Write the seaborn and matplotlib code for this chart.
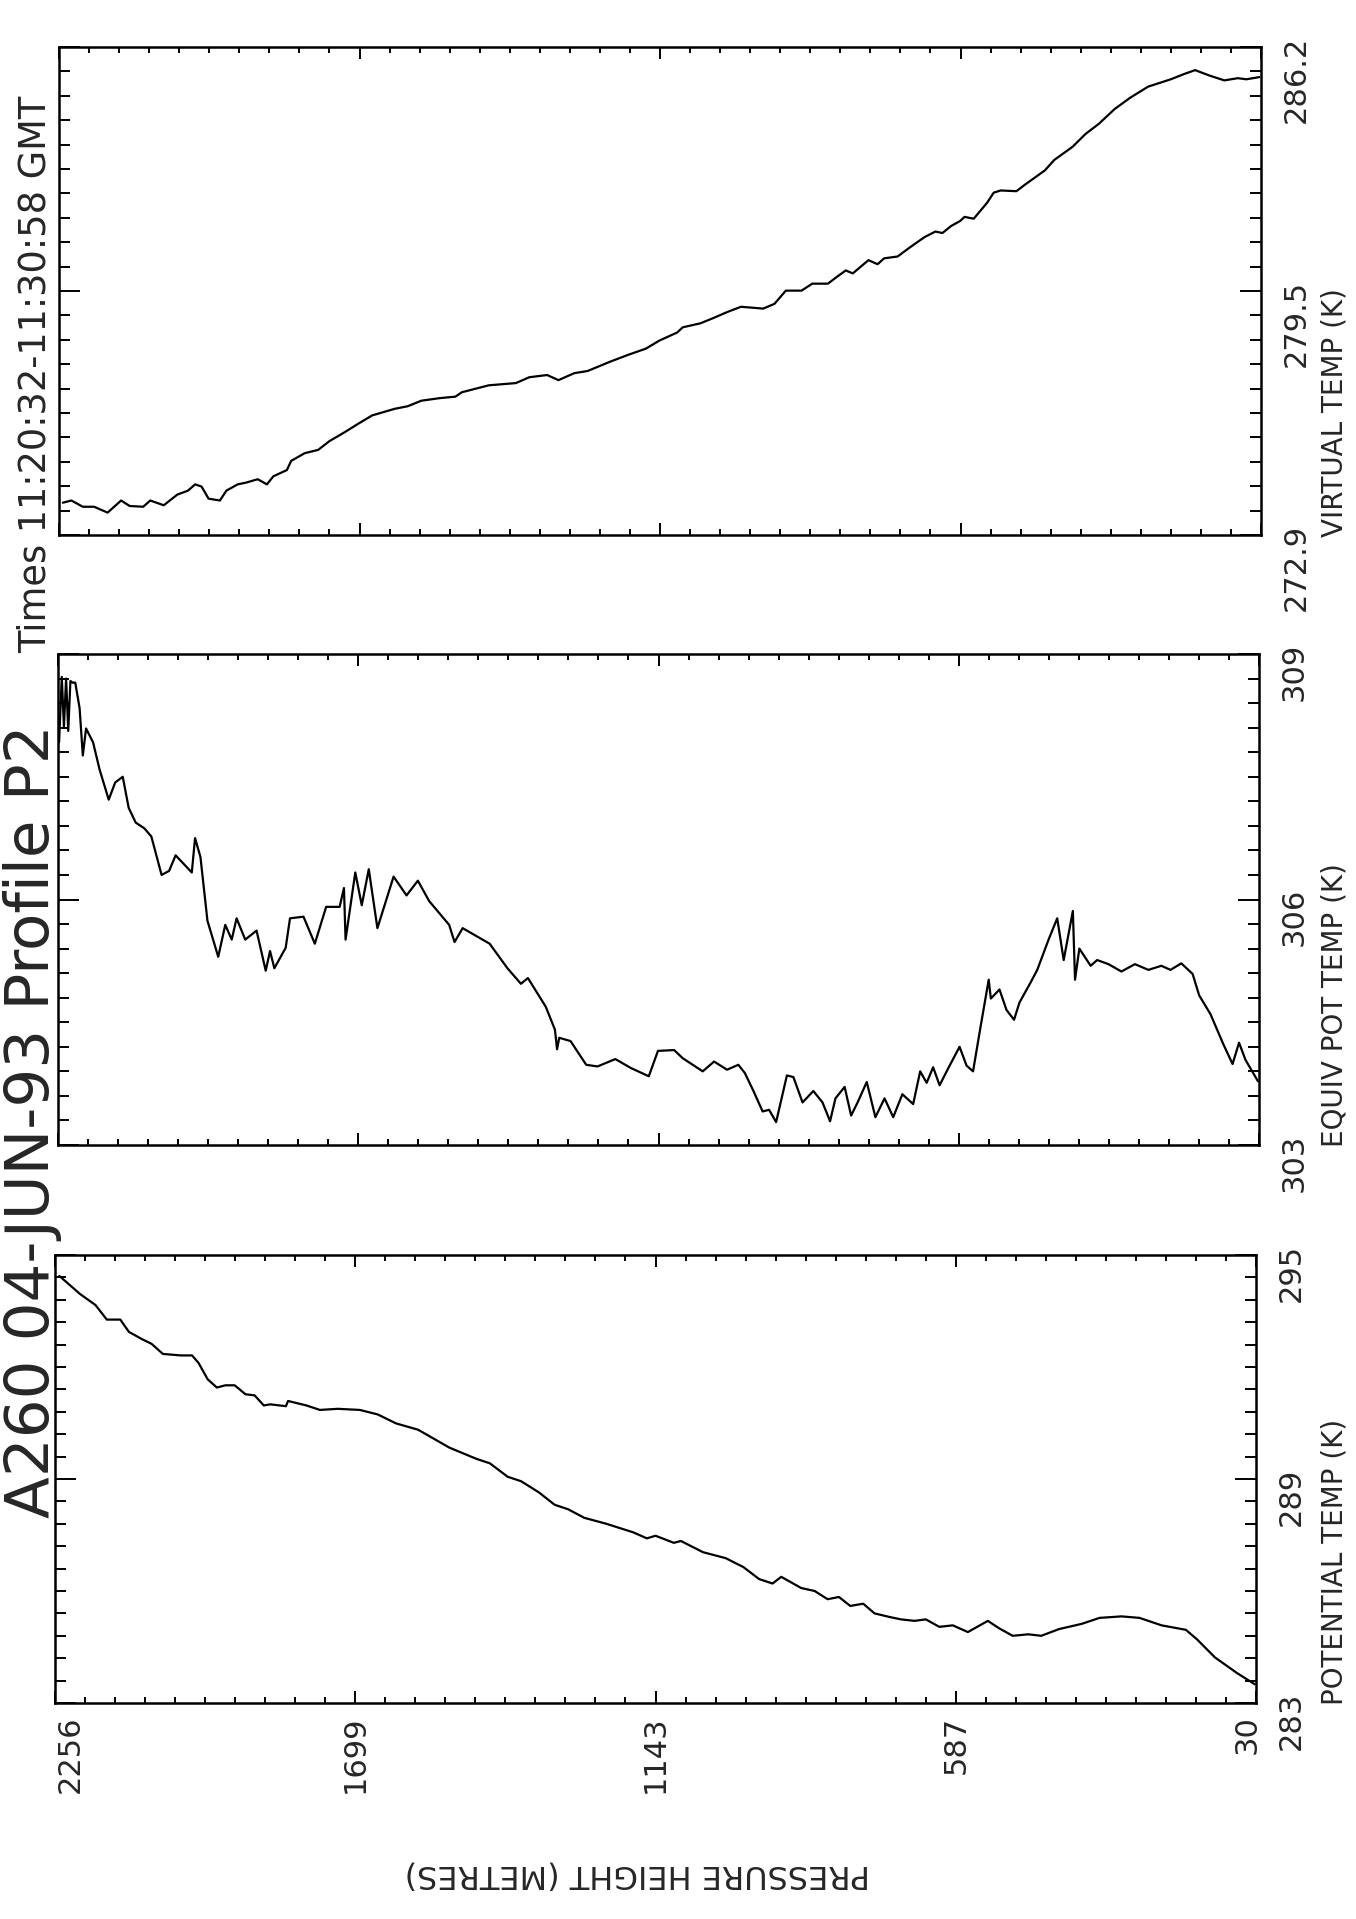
import numpy as np
import pandas as pd
import matplotlib
matplotlib.use("Agg")
import matplotlib.pyplot as plt
import matplotlib.transforms as mtrans
from matplotlib.ticker import FixedLocator
import seaborn as sns

# --- DATA ---
# potential temperature panel (bottom)
pot_height = [2248, 2210, 2181, 2160, 2135, 2119, 2094, 2077, 2056, 2023, 2002, 1990, 1973, 1956,
              1940, 1923, 1903, 1886, 1869, 1857, 1828, 1824, 1790, 1765, 1732, 1691, 1658, 1624,
              1583, 1525, 1475, 1450, 1417, 1392, 1359, 1330, 1305, 1275, 1234, 1184, 1159, 1143,
              1109, 1096, 1055, 1013, 980, 951, 926, 910, 873, 848, 824, 803, 782, 758, 737, 708,
              688, 663, 642, 617, 592, 564, 527, 506, 481, 452, 428, 395, 353, 320, 279, 246, 205,
              160, 139, 106, 65, 32]
pot_temp = [294.44, 293.96, 293.66, 293.27, 293.27, 292.94, 292.74, 292.62, 292.35, 292.31, 292.31,
            292.11, 291.67, 291.45, 291.51, 291.51, 291.27, 291.24, 290.97, 291.00, 290.95, 291.09,
            290.97, 290.85, 290.88, 290.85, 290.73, 290.49, 290.32, 289.84, 289.54, 289.42, 289.06,
            288.94, 288.64, 288.31, 288.19, 287.96, 287.80, 287.57, 287.41, 287.48, 287.29, 287.34,
            287.04, 286.88, 286.64, 286.32, 286.20, 286.38, 286.08, 286.00, 285.78, 285.84, 285.60,
            285.66, 285.40, 285.30, 285.24, 285.20, 285.24, 285.04, 285.08, 284.90, 285.20, 285.00,
            284.80, 284.84, 284.80, 284.98, 285.12, 285.28, 285.32, 285.28, 285.08, 284.96, 284.70,
            284.22, 283.80, 283.50]

# equivalent potential temperature panel (middle)
eq_height = [2254, 2249, 2245, 2241, 2237, 2233, 2229, 2224, 2216, 2210, 2204, 2191, 2179, 2162,
             2150, 2136, 2125, 2112, 2096, 2083, 2064, 2050, 2038, 2021, 2008, 2002, 1992, 1979,
             1959, 1946, 1934, 1925, 1909, 1888, 1871, 1863, 1855, 1834, 1826, 1801, 1780, 1759,
             1734, 1726, 1723, 1705, 1693, 1680, 1664, 1634, 1610, 1589, 1568, 1531, 1521, 1506,
             1456, 1423, 1398, 1385, 1352, 1335, 1331, 1327, 1306, 1277, 1256, 1223, 1194, 1161,
             1144, 1114, 1098, 1077, 1061, 1040, 1016, 995, 983, 967, 950, 938, 925, 905, 893,
             876, 856, 839, 825, 815, 798, 786, 774, 757, 741, 724, 708, 691, 671, 658, 646, 634,
             622, 605, 585, 572, 560, 548, 531, 527, 511, 498, 484, 474, 453, 441, 420, 404, 392,
             375, 371, 363, 342, 330, 309, 285, 260, 235, 211, 194, 174, 153, 141, 120, 96, 79,
             67, 55, 32]
eq_temp = [307.92, 308.72, 308.11, 308.70, 308.06, 308.67, 308.65, 308.65, 308.34, 307.76, 308.09,
           307.92, 307.59, 307.22, 307.43, 307.50, 307.12, 306.94, 306.87, 306.77, 306.30, 306.35,
           306.54, 306.42, 306.33, 306.75, 306.52, 305.74, 305.30, 305.69, 305.51, 305.77, 305.51,
           305.62, 305.13, 305.37, 305.16, 305.41, 305.77, 305.79, 305.46, 305.91, 305.91, 306.14,
           305.51, 306.33, 305.93, 306.37, 305.65, 306.28, 306.05, 306.23, 305.98, 305.69, 305.48,
           305.65, 305.46, 305.16, 304.97, 305.04, 304.69, 304.41, 304.17, 304.31, 304.27, 303.98,
           303.96, 304.05, 303.94, 303.84, 304.15, 304.16, 304.06, 303.97, 303.90, 304.02, 303.92,
           303.98, 303.88, 303.66, 303.41, 303.43, 303.28, 303.85, 303.83, 303.52, 303.66, 303.52,
           303.29, 303.57, 303.71, 303.36, 303.52, 303.77, 303.34, 303.57, 303.34, 303.62, 303.50,
           303.90, 303.76, 303.95, 303.73, 303.95, 304.20, 303.97, 303.90, 304.37, 305.02, 304.79,
           304.90, 304.65, 304.53, 304.74, 304.99, 305.14, 305.51, 305.77, 305.26, 305.86, 305.02,
           305.40, 305.19, 305.26, 305.21, 305.12, 305.21, 305.14, 305.19, 305.14, 305.22, 305.09,
           304.83, 304.60, 304.23, 303.99, 304.25, 304.04, 303.78]

# virtual temperature panel (top)
virt_height = [2249, 2233, 2212, 2191, 2166, 2141, 2125, 2100, 2087, 2062, 2037, 2017, 2004, 1992,
               1979, 1958, 1946, 1925, 1909, 1888, 1871, 1859, 1834, 1826, 1801, 1776, 1755, 1726,
               1701, 1676, 1634, 1610, 1585, 1551, 1522, 1510, 1460, 1410, 1385, 1352, 1331, 1302,
               1277, 1236, 1202, 1169, 1144, 1111, 1101, 1068, 1043, 1018, 993, 968, 952, 931, 910,
               881, 861, 832, 815, 799, 786, 757, 740, 728, 703, 682, 653, 633, 620, 604, 587, 579,
               562, 537, 525, 512, 483, 467, 446, 430, 413, 396, 379, 355, 330, 301, 272, 239, 197,
               173, 152, 127, 98, 73, 57, 33]
virt_temp = [273.78, 273.84, 273.67, 273.67, 273.51, 273.84, 273.69, 273.67, 273.84, 273.71, 274.00,
             274.11, 274.28, 274.22, 273.89, 273.84, 274.11, 274.28, 274.33, 274.42, 274.28, 274.50,
             274.67, 274.92, 275.13, 275.22, 275.46, 275.71, 275.94, 276.16, 276.34, 276.41, 276.56,
             276.63, 276.67, 276.79, 276.98, 277.04, 277.20, 277.26, 277.12, 277.31, 277.37, 277.62,
             277.81, 277.98, 278.20, 278.42, 278.56, 278.67, 278.82, 278.98, 279.12, 279.09, 279.07,
             279.20, 279.56, 279.56, 279.75, 279.75, 279.94, 280.11, 280.03, 280.39, 280.28, 280.44,
             280.49, 280.72, 281.02, 281.17, 281.13, 281.32, 281.46, 281.57, 281.52, 281.96, 282.23,
             282.29, 282.27, 282.45, 282.67, 282.84, 283.12, 283.30, 283.48, 283.83, 284.11, 284.51,
             284.82, 285.12, 285.32, 285.46, 285.57, 285.43, 285.29, 285.35, 285.32, 285.38]

height_ticks = [2256, 1699.5, 1143, 586.5, 30]
height_labels = ["2256", "1699", "1143", "587", "30"]

pot_ticks = [283, 289, 295]
pot_labels = ["283", "289", "295"]
eq_ticks = [303, 306, 309]
eq_labels = ["303", "306", "309"]
virt_ticks = [272.9, 279.55, 286.2]
virt_labels = ["272.9", "279.5", "286.2"]

title_main = "A260 04-JUN-93 Profile P2"
title_times = "Times 11:20:32-11:30:58 GMT"

W, H = 1356, 1919

sns.set_style("white")
plt.rcParams["font.family"] = ["DejaVu Sans"]


def frame(left, top, right, bottom):
    # pixel box (from top-left) -> figure fraction
    return [left / W, 1 - bottom / H, (right - left) / W, (bottom - top) / H]


def draw_panel(fig, box, heights, temps, tticks, tlabels, ylabel, show_height):
    ax = fig.add_axes(frame(*box))
    df = pd.DataFrame({"height": heights, "temp": temps})
    sns.lineplot(data=df, x="height", y="temp", ax=ax, sort=False, estimator=None,
                 color="black", linewidth=1.6)

    ax.set_xlim(2256, 30)
    ax.set_ylim(tticks[0], tticks[-1])
    ax.set_xlabel("")
    ax.set_ylabel("")

    ax.xaxis.set_major_locator(FixedLocator(height_ticks))
    ax.xaxis.set_minor_locator(FixedLocator(np.linspace(30, 2256, 41)))
    ax.set_xticklabels(height_labels if show_height else [])
    ax.yaxis.set_major_locator(FixedLocator(tticks))
    ax.yaxis.set_minor_locator(FixedLocator(np.linspace(tticks[0], tticks[-1], 21)))
    ax.set_yticklabels(tlabels)

    for s in ax.spines.values():
        s.set_visible(True)
        s.set_linewidth(1.8)
        s.set_color("black")

    ax.tick_params(which="both", direction="in", top=True, bottom=True, left=True, right=True,
                   color="black", width=1.4)
    ax.tick_params(axis="x", which="major", length=8.5)
    ax.tick_params(axis="x", which="minor", length=4.3)
    ax.tick_params(axis="y", which="major", length=15)
    ax.tick_params(axis="y", which="minor", length=8)
    ax.tick_params(axis="y", labelleft=False, labelright=True, labelrotation=90,
                   labelsize=22, pad=15)
    ax.tick_params(axis="x", labelbottom=show_height, labelrotation=90, labelsize=22, pad=9)

    if show_height:
        labels = ax.get_xticklabels()
        shift = [(15, 0), (0, 0), (0, 0), (0, 0), (-9, 0)]
        for lab, (dx, dy) in zip(labels, shift):
            lab.set_transform(lab.get_transform() +
                              mtrans.ScaledTranslation(dx / 100, dy / 100, fig.dpi_scale_trans))

    # axis title on the right, starting at the lower edge of the panel
    left, top, right, bottom = box
    fig.text(1342 / W, 1 - (bottom + 2) / H, ylabel, rotation=90, rotation_mode="anchor",
             ha="left", va="baseline", fontsize=20)
    return ax


fig = plt.figure(figsize=(W / 100, H / 100), dpi=100)
fig.patch.set_facecolor("white")

draw_panel(fig, (59, 47, 1261, 535), virt_height, virt_temp, virt_ticks, virt_labels,
           "VIRTUAL TEMP (K)", False)
draw_panel(fig, (58, 654, 1259, 1145), eq_height, eq_temp, eq_ticks, eq_labels,
           "EQUIV POT TEMP (K)", False)
draw_panel(fig, (55, 1255, 1256, 1703), pot_height, pot_temp, pot_ticks, pot_labels,
           "POTENTIAL TEMP (K)", True)

fig.text(49 / W, 1 - 1518 / H, title_main, rotation=90, rotation_mode="anchor",
         ha="left", va="baseline", fontsize=44)
fig.text(46 / W, 1 - 653 / H, title_times, rotation=90, rotation_mode="anchor",
         ha="left", va="baseline", fontsize=26.5)
fig.text(637 / W, 1 - 1874 / H, "PRESSURE HEIGHT (METRES)", rotation=180,
         ha="center", va="center", fontsize=23)

fig.savefig("out.png", dpi=100)
